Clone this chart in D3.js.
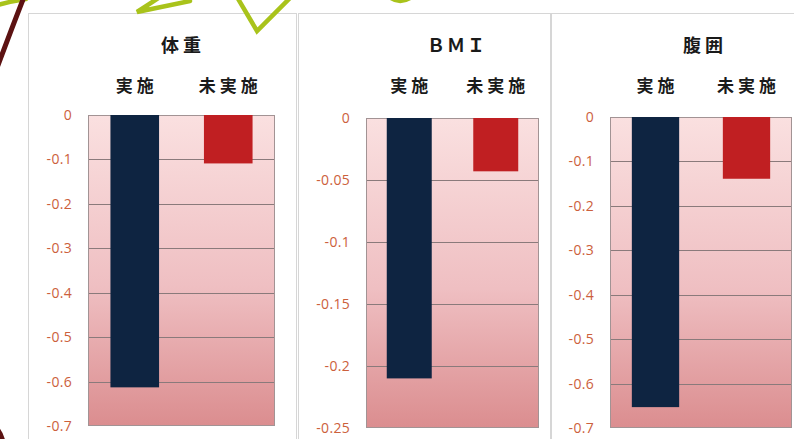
<!DOCTYPE html>
<html>
<head>
<meta charset="utf-8">
<script src="https://cdn.jsdelivr.net/npm/d3@7"></script>
<style>
  body { margin: 0; background: #ffffff; }
  svg { display: block; }
</style>
</head>
<body>
<div id="chart"></div>
<script>
// chart data
const panelTitles = ['体重', 'ＢＭＩ', '腹囲']
const groups = ['実施', '未実施']
const weightValues = [-0.613, -0.109]
const bmiValues = [-0.21, -0.043]
const waistValues = [-0.653, -0.139]
const weightTicks = [0, -0.1, -0.2, -0.3, -0.4, -0.5, -0.6, -0.7]
const bmiTicks = [0, -0.05, -0.1, -0.15, -0.2, -0.25]
const waistTicks = [0, -0.1, -0.2, -0.3, -0.4, -0.5, -0.6, -0.7]

var width = 794,
  height = 439

var svg = d3
  .select('#chart')
  .append('svg')
  .attr('width', width)
  .attr('height', height)

// gradient for plot background
var defs = svg.append('defs')
var grad = defs
  .append('linearGradient')
  .attr('id', 'plotBg')
  .attr('x1', 0)
  .attr('y1', 0)
  .attr('x2', 0)
  .attr('y2', 1)
grad.append('stop').attr('offset', '0%').attr('stop-color', '#fae0e0')
grad.append('stop').attr('offset', '55%').attr('stop-color', '#efbfc2')
grad.append('stop').attr('offset', '100%').attr('stop-color', '#db8d8f')

// panel layout (box + plot area)
var panels = [
  { title: panelTitles[0], values: weightValues, ticks: weightTicks, box: [28, 296], plot: [88, 275, 115, 426], titleX: 183 },
  { title: panelTitles[1], values: bmiValues, ticks: bmiTicks, box: [298, 550], plot: [366, 539, 118, 428], titleX: 457 },
  { title: panelTitles[2], values: waistValues, ticks: waistTicks, box: [551, 800], plot: [610, 792, 117, 428], titleX: 705 }
]

// format tick labels with a plain hyphen
function fmt(v) {
  if (v === 0) return '0'
  return '-' + String(Math.abs(v))
}

panels.forEach(function (p) {
  var g = svg.append('g')

  // panel frame
  g.append('rect')
    .attr('x', p.box[0] + 0.5)
    .attr('y', 13.5)
    .attr('width', p.box[1] - p.box[0])
    .attr('height', 450)
    .attr('fill', '#fff')
    .attr('stroke', '#d6d6d6')

  var x = d3
    .scaleBand()
    .domain(groups)
    .range([p.plot[0], p.plot[1]])
    .paddingInner(0.48)
    .paddingOuter(0.24)
  var y = d3
    .scaleLinear()
    .domain([d3.min(p.ticks), 0])
    .range([p.plot[3], p.plot[2]])

  // plot background
  g.append('rect')
    .attr('x', p.plot[0])
    .attr('y', p.plot[2])
    .attr('width', p.plot[1] - p.plot[0])
    .attr('height', p.plot[3] - p.plot[2])
    .attr('fill', 'url(#plotBg)')

  // gridlines
  g.append('g')
    .selectAll('line')
    .data(p.ticks.filter((t) => t !== 0 && t !== d3.min(p.ticks)))
    .enter()
    .append('line')
    .attr('x1', p.plot[0])
    .attr('x2', p.plot[1])
    .attr('y1', (d) => Math.round(y(d)) + 0.5)
    .attr('y2', (d) => Math.round(y(d)) + 0.5)
    .attr('stroke', '#8a7a7b')
    .attr('stroke-width', 1)

  // plot border
  g.append('rect')
    .attr('x', p.plot[0] + 0.5)
    .attr('y', p.plot[2] + 0.5)
    .attr('width', p.plot[1] - p.plot[0] - 1)
    .attr('height', p.plot[3] - p.plot[2] - 1)
    .attr('fill', 'none')
    .attr('stroke', '#a29394')

  // bars
  g.append('g')
    .selectAll('rect')
    .data(p.values)
    .enter()
    .append('rect')
    .attr('x', (d, i) => x(groups[i]))
    .attr('y', y(0))
    .attr('width', x.bandwidth())
    .attr('height', (d) => y(d) - y(0))
    .attr('fill', (d, i) => (i === 0 ? '#0e2441' : '#c01f22'))

  // y axis labels
  var axis = d3
    .axisLeft(y)
    .tickValues(p.ticks)
    .tickSize(0)
    .tickPadding(16)
    .tickFormat(fmt)
  var ax = g
    .append('g')
    .attr('transform', 'translate(' + p.plot[0] + ',0)')
    .call(axis)
  ax.select('.domain').remove()
  ax.selectAll('text')
    .attr('fill', '#cc603c')
    .attr('font-family', 'Open Sans, sans-serif')
    .attr('font-size', 14)
    .attr('letter-spacing', 0.3)

  // title
  g.append('text')
    .attr('x', p.titleX)
    .attr('y', 52)
    .attr('text-anchor', 'middle')
    .attr('font-family', 'Noto Sans CJK JP')
    .attr('font-weight', 'bold')
    .attr('font-size', 18)
    .attr('letter-spacing', p.title === 'ＢＭＩ' ? 2 : 4)
    .attr('fill', '#1a1a1a')
    .text(p.title)

  // group labels
  g.append('g')
    .selectAll('text')
    .data(groups)
    .enter()
    .append('text')
    .attr('x', (d) => x(d) + x.bandwidth() / 2 + 2)
    .attr('y', 92)
    .attr('text-anchor', 'middle')
    .attr('font-family', 'Noto Sans CJK JP')
    .attr('font-weight', 'bold')
    .attr('font-size', 17)
    .attr('letter-spacing', 4)
    .attr('fill', '#1a1a1a')
    .text((d) => d)
})

// decorations from the slide behind the chart
var deco = svg.append('g').attr('fill', 'none').attr('stroke-linecap', 'round')
deco.append('path')
  .attr('d', 'M160,-3 L137,12 L190,1')
  .attr('stroke', '#a9c31b')
  .attr('stroke-width', 4.5)
deco.append('path')
  .attr('d', 'M237,-3 L257,31 L291,-3')
  .attr('stroke', '#a9c31b')
  .attr('stroke-width', 4.5)
deco.append('path')
  .attr('d', 'M391,-2 Q400,4 410,-2')
  .attr('stroke', '#a9c31b')
  .attr('stroke-width', 4.5)
deco.append('path')
  .attr('d', 'M-2,5 Q12,1 26,-1')
  .attr('stroke', '#a9c31b')
  .attr('stroke-width', 4.5)
deco.append('path')
  .attr('d', 'M24,-3 Q13,25 -6,76')
  .attr('stroke', '#5c1212')
  .attr('stroke-width', 5)
deco.append('path')
  .attr('d', 'M-4,428 Q1,433 3,442')
  .attr('stroke', '#5c1212')
  .attr('stroke-width', 5)
</script>
</body>
</html>
